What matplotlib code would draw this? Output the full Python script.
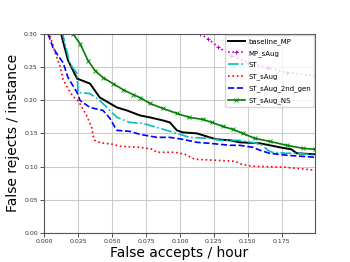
import matplotlib
matplotlib.use("Agg")
import matplotlib.pyplot as plt

# baseline_MP
bl_x = [0.0120, 0.0176, 0.0243, 0.0338, 0.041, 0.0537, 0.061, 0.0706, 0.078, 0.0875, 0.0926,
        0.0978, 0.102, 0.1125, 0.122, 0.127, 0.137, 0.144, 0.159, 0.1735, 0.182, 0.186, 0.1995]
bl_y = [0.304, 0.26, 0.2325, 0.225, 0.204, 0.189, 0.1845, 0.177, 0.174, 0.1695, 0.1665,
        0.1545, 0.1515, 0.15, 0.144, 0.141, 0.1395, 0.1365, 0.135, 0.129, 0.126, 0.12, 0.1185]

# MP_sAug
mp_x = [0.1147, 0.1206, 0.128, 0.138, 0.15, 0.1647, 0.179, 0.1995]
mp_y = [0.30, 0.2925, 0.2805, 0.267, 0.2565, 0.249, 0.2415, 0.237]

# ST
st_x = [0.0132, 0.019, 0.0243, 0.025, 0.0338, 0.041, 0.0463, 0.0537, 0.063, 0.0728, 0.083,
        0.0904, 0.0978, 0.107, 0.122, 0.1295, 0.144, 0.1566, 0.161, 0.1647, 0.168, 0.1787, 0.188, 0.1995]
st_y = [0.304, 0.255, 0.24, 0.2115, 0.21, 0.1995, 0.189, 0.174, 0.1665, 0.165, 0.159,
        0.1545, 0.15, 0.144, 0.1425, 0.1395, 0.1395, 0.135, 0.132, 0.1245, 0.1215, 0.12, 0.12, 0.117]

# ST_sAug
sa_x = [0.0044, 0.0081, 0.0118, 0.014, 0.0176, 0.0213, 0.025, 0.028, 0.0316, 0.0353, 0.036,
        0.037, 0.0412, 0.0507, 0.0559, 0.0706, 0.080, 0.083, 0.0963, 0.1037, 0.111, 0.1404,
        0.1456, 0.153, 0.177, 0.192, 0.1995]
sa_y = [0.297, 0.2715, 0.2505, 0.231, 0.2175, 0.2055, 0.1995, 0.189, 0.1755, 0.1575, 0.147,
        0.140, 0.136, 0.1335, 0.1305, 0.129, 0.126, 0.1215, 0.1215, 0.1185, 0.111, 0.108,
        0.1035, 0.1005, 0.099, 0.096, 0.0945]

# ST_sAug_2nd_gen
g2_x = [0.0029, 0.0066, 0.0103, 0.014, 0.0176, 0.0243, 0.0265, 0.0338, 0.0434, 0.0485, 0.0522,
        0.0537, 0.0632, 0.0706, 0.083, 0.0926, 0.102, 0.1125, 0.122, 0.137, 0.144, 0.1537,
        0.159, 0.166, 0.1787, 0.1995]
g2_y = [0.30, 0.279, 0.267, 0.2565, 0.234, 0.2115, 0.1995, 0.189, 0.1845, 0.1725, 0.159,
        0.1545, 0.153, 0.1485, 0.144, 0.144, 0.141, 0.1365, 0.135, 0.132, 0.132, 0.129,
        0.1245, 0.12, 0.117, 0.114]

# ST_sAug_NS
ns_x = [0.0213, 0.0265, 0.0324, 0.0375, 0.0434, 0.0507, 0.058, 0.0654, 0.0706, 0.078, 0.0875,
        0.0978, 0.107, 0.117, 0.1235, 0.1316, 0.139, 0.1463, 0.155, 0.166, 0.1787, 0.1904, 0.1995]
ns_y = [0.30, 0.285, 0.2595, 0.2445, 0.234, 0.225, 0.216, 0.2085, 0.204, 0.195, 0.1875,
        0.18, 0.174, 0.171, 0.1665, 0.1605, 0.156, 0.15, 0.1425, 0.138, 0.132, 0.1275, 0.126]

xticks = [0.0, 0.025, 0.05, 0.075, 0.1, 0.125, 0.15, 0.175]
yticks = [0.0, 0.05, 0.1, 0.15, 0.2, 0.25, 0.3]

fig = plt.figure(figsize=(3.5, 2.62), dpi=100)
ax = fig.add_axes([0.126, 0.111, 0.774, 0.760])

ax.plot(bl_x, bl_y, color="black", lw=1.4, label="baseline_MP")
ax.plot(mp_x, mp_y, color="m", ls=":", lw=1.2, marker="+", ms=3, mew=0.7, label="MP_sAug")
ax.plot(st_x, st_y, color="c", ls="-.", lw=1.2, label="ST")
ax.plot(sa_x, sa_y, color="red", ls=":", lw=1.2, label="ST_sAug")
ax.plot(g2_x, g2_y, color="blue", ls="--", lw=1.2, label="ST_sAug_2nd_gen")
ax.plot(ns_x, ns_y, color="green", ls="-", lw=1.2, marker="x", ms=2.5, mew=0.6, label="ST_sAug_NS")

ax.set_xlim(0, 0.1995)
ax.set_ylim(0, 0.3)
ax.set_xticks(xticks)
ax.set_yticks(yticks)
ax.set_xticklabels([f"{v:.3f}" for v in xticks])
ax.set_yticklabels([f"{v:.2f}" for v in yticks])
ax.tick_params(labelsize=4.5, length=3, width=0.6, colors="#333333", pad=1.5)
ax.grid(True, color="#cccccc", lw=0.8)
ax.set_axisbelow(True)
for s in ax.spines.values():
    s.set_color("#555555")
    s.set_linewidth(0.8)

ax.set_xlabel("False accepts / hour", fontsize=10, labelpad=1)
ax.set_ylabel("False rejects / instance", fontsize=10, labelpad=3)

ax.legend(loc="upper right", fontsize=5, handlelength=2.4, handletextpad=0.5,
          labelspacing=0.75, borderaxespad=0.2, framealpha=0.8)

fig.savefig("out.png", dpi=100)
